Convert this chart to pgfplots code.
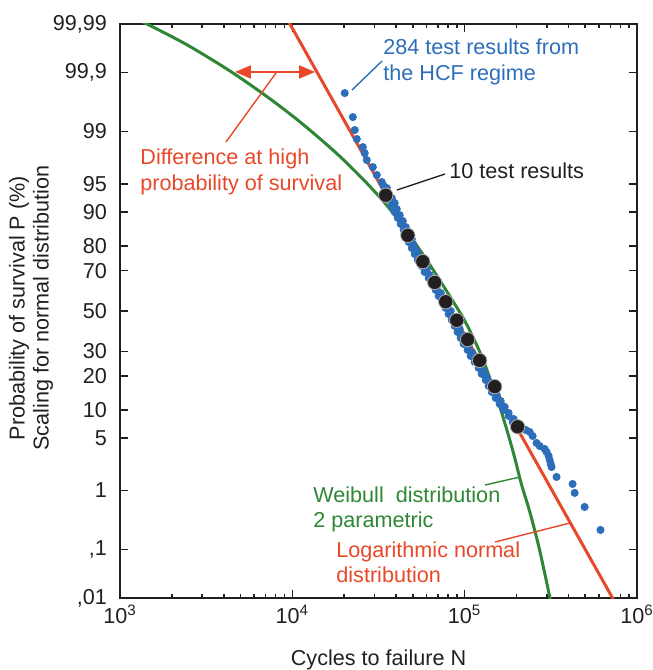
\documentclass[border=0pt]{standalone}
\usepackage{fontspec}
\setmainfont{Liberation Sans}
\usepackage{pgfplots}
\pgfplotsset{compat=1.18}
\usepackage{pgfplotstable}
\usetikzlibrary{arrows.meta}

\definecolor{lnred}{RGB}{232,72,40}
\definecolor{wbgreen}{RGB}{46,135,52}
\definecolor{dotblue}{RGB}{45,110,186}
\definecolor{dotblack}{RGB}{35,31,32}

% x = log10(N), y = normal quantile of survival probability
\pgfplotstableread{
lx z
4.304 2.824
4.351 2.513
4.362 2.345
4.374 2.228
4.409 2.124
4.420 2.047
4.432 1.956
4.467 1.865
4.490 1.762
4.519 1.671
4.530 1.620
4.548 1.593
4.560 1.520
4.577 1.464
4.565 1.438
4.594 1.399
4.577 1.360
4.606 1.321
4.594 1.282
4.623 1.243
4.612 1.205
4.641 1.166
4.629 1.127
4.658 1.088
4.646 1.049
4.675 1.010
4.664 0.972
4.693 0.933
4.675 0.894
4.704 0.855
4.693 0.816
4.722 0.777
4.710 0.738
4.739 0.699
4.728 0.661
4.757 0.622
4.751 0.583
4.780 0.544
4.768 0.505
4.797 0.466
4.791 0.427
4.820 0.388
4.809 0.350
4.838 0.311
4.832 0.272
4.861 0.233
4.849 0.194
4.878 0.155
4.872 0.117
4.901 0.078
4.890 0.039
4.919 0.000
4.907 -0.039
4.936 -0.078
4.925 -0.117
4.954 -0.155
4.942 -0.194
4.971 -0.233
4.959 -0.272
4.988 -0.311
4.977 -0.350
5.006 -0.388
4.994 -0.427
5.023 -0.466
5.017 -0.505
5.046 -0.544
5.035 -0.583
5.064 -0.622
5.058 -0.661
5.087 -0.699
5.081 -0.738
5.110 -0.777
5.099 -0.816
5.128 -0.855
5.122 -0.894
5.151 -0.933
5.139 -0.972
5.168 -1.010
5.157 -1.049
5.186 -1.088
5.180 -1.127
5.209 -1.166
5.203 -1.205
5.232 -1.243
5.226 -1.282
5.255 -1.321
5.255 -1.360
5.284 -1.399
5.278 -1.438
5.307 -1.477
5.330 -1.503
5.354 -1.541
5.377 -1.567
5.394 -1.619
5.417 -1.710
5.435 -1.749
5.464 -1.788
5.475 -1.826
5.487 -1.878
5.493 -1.930
5.499 -1.982
5.504 -2.021
5.533 -2.150
5.626 -2.241
5.638 -2.357
5.696 -2.539
5.788 -2.837
}\hcfdata

\pgfplotstableread{
lx z
4.542 1.50
4.670 0.98
4.757 0.64
4.826 0.37
4.890 0.12
4.954 -0.12
5.017 -0.37
5.087 -0.64
5.174 -0.98
5.307 -1.50
}\tendata

\pgfplotstableread{
lx z
3.100 3.780
3.157 3.719
3.388 3.450
3.638 3.110
3.870 2.750
4.061 2.420
4.258 2.040
4.409 1.710
4.525 1.430
4.612 1.190
4.690 0.950
4.780 0.660
4.872 0.340
4.988 -0.078
5.046 -0.330
5.105 -0.620
5.155 -0.930
5.205 -1.250
5.250 -1.580
5.290 -1.900
5.330 -2.250
5.380 -2.620
5.435 -3.100
5.495 -3.719
5.510 -3.880
}\weibull

\pgfplotstableread{
lx z
3.9405 3.900
5.9036 -3.900
}\lognormal

\begin{document}
\begin{tikzpicture}
\begin{axis}[
  scale only axis,
  width=258.5pt, height=287pt,
  xmin=3, xmax=6, ymin=-3.719, ymax=3.719,
  xtick={3,4,5,6},
  xticklabels={10\textsuperscript{3},10\textsuperscript{4},10\textsuperscript{5},10\textsuperscript{6}},
  minor xtick={3.301,3.477,3.602,3.699,3.778,3.845,3.903,3.954,
               4.301,4.477,4.602,4.699,4.778,4.845,4.903,4.954,
               5.301,5.477,5.602,5.699,5.778,5.845,5.903,5.954},
  ytick={-3.719,-3.090,-2.326,-1.645,-1.282,-0.842,-0.524,0,0.524,0.842,1.282,1.645,2.326,3.090,3.719},
  yticklabels={{,01},{,1},{1},{5},{10},{20},{30},{50},{70},{80},{90},{95},{99},{99,9},{99,99}},
  axis line style={line width=1.2pt, color=dotblack},
  tick style={line width=0.8pt, color=dotblack},
  major tick length=4pt, minor tick length=2pt,
  tick label style={font=\fontsize{10.8}{12}\selectfont, color=dotblack},
  yticklabel style={xshift=-3pt},
  label style={font=\fontsize{10.8}{12}\selectfont, color=dotblack},
  xlabel={Cycles to failure N},
  xlabel style={at={(axis description cs:0.5,0)}, anchor=base, yshift=-33.5pt},
  ylabel={Probability of survival P (\%)\\Scaling for normal distribution},
  ylabel style={at={(axis description cs:-0.172,0.505)}, anchor=center, align=center},
]
\addplot[only marks, mark=*, mark size=1.8pt, color=dotblue, mark options={draw=dotblue}] table[x=lx, y=z] {\hcfdata};
\addplot[lnred, line width=1.5pt] table[x=lx, y=z] {\lognormal};
\addplot[wbgreen, line width=1.5pt, smooth, tension=0.5] table[x=lx, y=z] {\weibull};
\addplot[only marks, mark=*, mark size=3.6pt, mark options={fill=dotblack, draw=gray!60, line width=0.4pt}] table[x=lx, y=z] {\tendata};

% annotations
\draw[dotblue, line width=0.7pt] (rel axis cs:0.4487,0.8850) -- (rel axis cs:0.5068,0.9355);
\node[dotblue, anchor=base west, inner sep=0pt, font=\fontsize{10.8}{12}\selectfont] at (rel axis cs:0.5087,0.946) {284 test results from};
\node[dotblue, anchor=base west, inner sep=0pt, font=\fontsize{10.8}{12}\selectfont] at (rel axis cs:0.5087,0.902) {the HCF regime};

\draw[dotblack, line width=0.7pt] (rel axis cs:0.5358,0.7108) -- (rel axis cs:0.6286,0.7387);
\node[dotblack, anchor=base west, inner sep=0pt, font=\fontsize{10.8}{12}\selectfont] at (rel axis cs:0.6364,0.7317) {10 test results};

\draw[lnred, line width=0.7pt] (rel axis cs:0.2050,0.7944) -- (rel axis cs:0.3017,0.9146);
\draw[lnred, line width=1pt, {Triangle[length=8pt,width=6.5pt]}-{Triangle[length=8pt,width=6.5pt]}] (rel axis cs:0.2224,0.9164) -- (rel axis cs:0.3772,0.9164);
\node[lnred, anchor=base west, inner sep=0pt, font=\fontsize{10.8}{12}\selectfont] at (rel axis cs:0.0387,0.7544) {Difference at high};
\node[lnred, anchor=base west, inner sep=0pt, font=\fontsize{10.8}{12}\selectfont] at (rel axis cs:0.0387,0.7108) {probability of survival};

\draw[wbgreen, line width=0.7pt] (rel axis cs:0.7060,0.1969) -- (rel axis cs:0.7737,0.2108);
\node[wbgreen, anchor=base west, inner sep=0pt, font=\fontsize{10.8}{12}\selectfont] at (rel axis cs:0.3733,0.1672) {Weibull\ \ distribution};
\node[wbgreen, anchor=base west, inner sep=0pt, font=\fontsize{10.8}{12}\selectfont] at (rel axis cs:0.3733,0.1237) {2 parametric};

\draw[lnred, line width=0.7pt] (rel axis cs:0.7253,0.0976) -- (rel axis cs:0.8704,0.1307);
\node[lnred, anchor=base west, inner sep=0pt, font=\fontsize{10.8}{12}\selectfont] at (rel axis cs:0.4178,0.0714) {Logarithmic normal};
\node[lnred, anchor=base west, inner sep=0pt, font=\fontsize{10.8}{12}\selectfont] at (rel axis cs:0.4178,0.0279) {distribution};

\coordinate (bbSW) at (rel axis cs:-0.2321,-0.1254);
\coordinate (bbNE) at (rel axis cs:1.0309,1.0418);
\end{axis}
\pgfresetboundingbox
\useasboundingbox (bbSW) rectangle (bbNE);
\end{tikzpicture}
\end{document}
